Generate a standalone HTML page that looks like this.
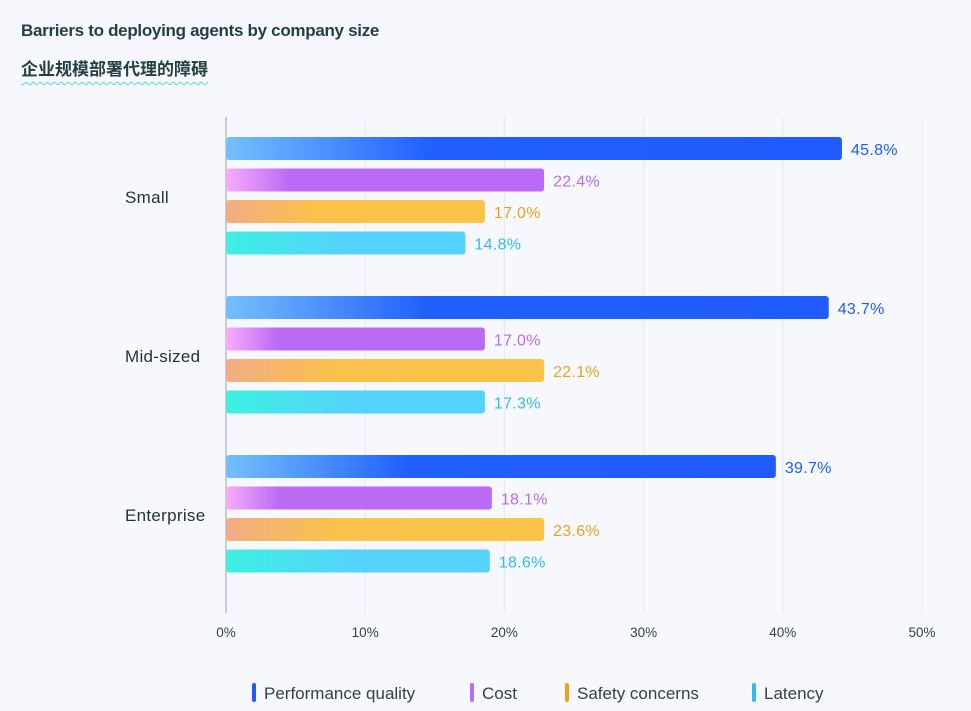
<!DOCTYPE html>
<html><head><meta charset="utf-8">
<style>
body{margin:0;background:#f7f8fd;font-family:"Liberation Sans","Noto Sans CJK SC",sans-serif;}
#wrap{position:relative;width:971px;height:711px;overflow:hidden;background:#f7f8fd;}
.t1{position:absolute;left:21px;top:21px;font-size:17px;font-weight:bold;color:#24403f;letter-spacing:-0.3px}
.t2{position:absolute;left:21px;top:55px;font-size:17px;font-weight:bold;color:#24403f;text-decoration:underline wavy #4dd9e0;text-underline-offset:6px;text-decoration-thickness:1px}
</style></head><body>
<div id="wrap">
<div class="t1">Barriers to deploying agents by company size</div>
<div class="t2">企业规模部署代理的障碍</div>
<svg id="chart" width="971" height="711" style="position:absolute;left:0;top:0">
<defs>
<linearGradient id="g0" x1="0" x2="1"><stop offset="0" stop-color="#74c0fc"/><stop offset="0.33" stop-color="#2160ff"/><stop offset="1" stop-color="#1f5bff"/></linearGradient>
<linearGradient id="g1" x1="0" x2="1"><stop offset="0" stop-color="#f8acfc"/><stop offset="0.2" stop-color="#bb6af4"/><stop offset="1" stop-color="#bb6af4"/></linearGradient>
<linearGradient id="g2" x1="0" x2="1"><stop offset="0" stop-color="#f2ac84"/><stop offset="0.35" stop-color="#fac24a"/><stop offset="1" stop-color="#fac44a"/></linearGradient>
<linearGradient id="g3" x1="0" x2="1"><stop offset="0" stop-color="#3ef0e2"/><stop offset="0.5" stop-color="#55d2fd"/><stop offset="1" stop-color="#55d2fd"/></linearGradient>
</defs>
</svg>
</div>
<script>
const categories=["Small","Mid-sized","Enterprise"];
const seriesNames=["Performance quality","Cost","Safety concerns","Latency"];
const perfValues=[44.25,43.3,39.5];
const costValues=[22.85,18.6,19.1];
const safetyValues=[18.6,22.85,22.85];
const latencyValues=[17.2,18.6,18.95];
const perfLabels=["45.8%","43.7%","39.7%"];
const costLabels=["22.4%","17.0%","18.1%"];
const safetyLabels=["17.0%","22.1%","23.6%"];
const latencyLabels=["14.8%","17.3%","18.6%"];
const ticks=[0,10,20,30,40,50];
const tickLabels=["0%","10%","20%","30%","40%","50%"];

const svg=document.getElementById('chart');
const NS='http://www.w3.org/2000/svg';
const x0=226,pxPer=13.92;
const xs=v=>x0+v*pxPer;
const groupTop=i=>137+i*159;
const colors=["#1f5bff","#bb6af4","#eba21a","#2ebcf5"];
const series=[perfValues,costValues,safetyValues,latencyValues];
const labels=[perfLabels,costLabels,safetyLabels,latencyLabels];
function mk(tag,attrs){const e=document.createElementNS(NS,tag);for(const k in attrs)e.setAttribute(k,attrs[k]);svg.appendChild(e);return e;}
ticks.forEach((t,i)=>{
  if(i>0){const g=mk('line',{x1:xs(t),x2:xs(t),y1:117,y2:613,stroke:'#e6e8ef','stroke-width':1});
  
  }
  const tx=mk('text',{x:xs(t),y:637,'text-anchor':'middle','font-size':13.5,fill:'#2f4444','font-family':'Liberation Sans'});
  tx.textContent=tickLabels[i];
  
  
});
const ax=mk('line',{x1:x0,x2:x0,y1:117,y2:613,stroke:'#c8cbd3','stroke-width':2});


categories.forEach((c,i)=>{
  const top=groupTop(i);
  const cl=mk('text',{x:125,y:top+66,'font-size':17,fill:'#1f3333','font-family':'Liberation Sans','letter-spacing':0.3});
  cl.textContent=c;
  
  
  series.forEach((s,j)=>{
    const y=top+j*31.5;
    const w=xs(s[i])-x0;
    const r=mk('rect',{x:x0,y:y,width:w,height:23,rx:3,fill:'url(#g'+j+')'});
    
    
    const l=mk('text',{x:xs(s[i])+9,y:y+18,'font-size':16,fill:colors[j],'font-family':'Liberation Sans','letter-spacing':0.3});
    l.textContent=labels[j][i];
    
    
  });
});
const legX=[252,470,565,752];
seriesNames.forEach((n,j)=>{
  const m=mk('rect',{x:legX[j],y:683,width:4,height:19,rx:2,fill:colors[j]});
  
  
  const t=mk('text',{x:legX[j]+12,y:699,'font-size':17,fill:'#2f4444','font-family':'Liberation Sans'});
  t.textContent=n;
  
  
});
</script>
</body></html>
